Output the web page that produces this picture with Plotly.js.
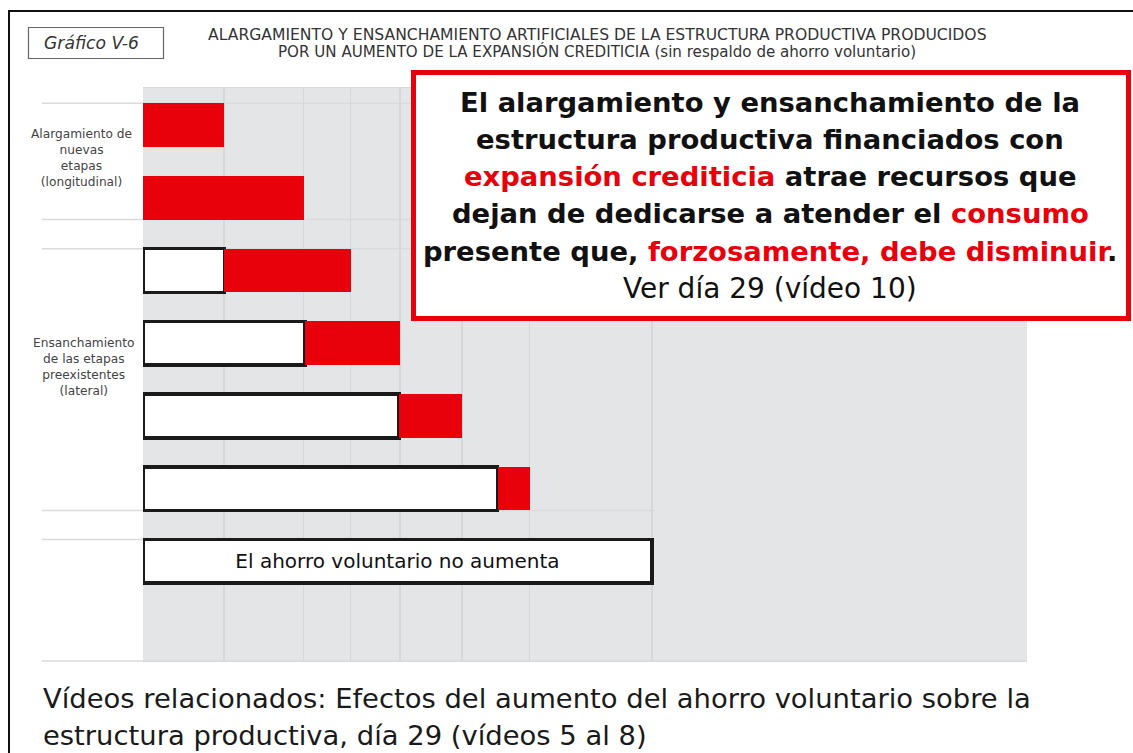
<!DOCTYPE html>
<html>
<head>
<meta charset="utf-8">
<script src="https://cdn.plot.ly/plotly-3.0.1.min.js"></script>
<style>
  html, body { margin: 0; padding: 0; background: #ffffff; }
  #chart { width: 1133px; height: 753px; }
</style>
</head>
<body>
<div id="chart"></div>
<script>
// ---- Data (x in % of the voluntary-saving bar) ----
const stages = ['Nueva etapa A', 'Nueva etapa B', 'Etapa 5', 'Etapa 4', 'Etapa 3', 'Etapa 2', 'Etapa 1'];
const ahorroValues = [null, null, 16, 31.8, 50.3, 69.7, 100];
const creditoValues = [15.9, 31.6, 24.8, 18.7, 12.4, 6.3, null];
const barTexts = ['', '', '', '', '', '', 'El ahorro voluntario no aumenta'];
const groupLabels = [
  'Alargamiento de<br>nuevas<br>etapas<br>(longitudinal)',
  'Ensanchamiento<br>de las etapas<br>preexistentes<br>(lateral)'
];
const chartTitle = ['ALARGAMIENTO Y ENSANCHAMIENTO ARTIFICIALES DE LA ESTRUCTURA PRODUCTIVA PRODUCIDOS',
                    'POR UN AUMENTO DE LA EXPANSIÓN CREDITICIA (sin respaldo de ahorro voluntario)'];
const chartTag = 'Gráfico V-6';
const boxLines = [
  {t: 'El alargamiento y ensanchamiento de la', b: true},
  {t: 'estructura productiva financiados con', b: true},
  {t: '<span style="color:#e8000b">expansión crediticia</span> atrae recursos que', b: true},
  {t: 'dejan de dedicarse a atender el <span style="color:#e8000b">consumo</span>', b: true},
  {t: 'presente que, <span style="color:#e8000b">forzosamente, debe disminuir</span>.', b: true},
  {t: 'Ver día 29 (vídeo 10)', b: false}
];
const footLines = ['Vídeos relacionados: Efectos del aumento del ahorro voluntario sobre la',
                   'estructura productiva, día 29 (vídeos 5 al 8)'];

// ---- Geometry helpers (page pixels -> paper coordinates) ----
const W = 1133, H = 753;
const M = {l: 143, r: W - 1027, t: 88, b: H - 661};
const PW = W - M.l - M.r, PH = H - M.t - M.b;
const px = v => (v - M.l) / PW;
const py = v => (H - M.b - v) / PH;

const totals = ahorroValues.map((a, i) => (a || 0) + (creditoValues[i] || 0));
const gridVals = totals.slice();

const FONT = 'DejaVu Sans, Liberation Sans, sans-serif';
const RED = '#e8000b';

const traces = [
  {
    type: 'bar', orientation: 'h', y: stages, x: ahorroValues,
    width: 0.6, name: 'Ahorro voluntario',
    marker: {color: '#ffffff', line: {color: '#1a1a1a', width: 3.5}},
    text: barTexts, textposition: 'inside', insidetextanchor: 'middle',
    constraintext: 'none',
    textfont: {family: FONT, size: 20, color: '#111111'},
    hoverinfo: 'x+y'
  },
  {
    type: 'bar', orientation: 'h', y: stages, x: creditoValues,
    width: 0.6, name: 'Expansión crediticia',
    marker: {color: RED, line: {width: 0}},
    hoverinfo: 'x+y'
  }
];

const shapes = [];
// outer frame (open at right/bottom)
shapes.push({type: 'path', xref: 'paper', yref: 'paper',
  path: `M ${px(9)} ${py(760)} L ${px(9)} ${py(11)} L ${px(1140)} ${py(11)}`,
  line: {color: '#111', width: 2}});
// tag box
shapes.push({type: 'rect', xref: 'paper', yref: 'paper',
  x0: px(28.5), x1: px(163.5), y0: py(27.5), y1: py(58.5),
  line: {color: '#666', width: 1.2}, fillcolor: 'rgba(0,0,0,0)'});
// group separator lines (data y positions around the bars)
const sepYs = [-0.3, 1.3, 1.7, 5.3, 5.7];
sepYs.forEach(yv => {
  shapes.push({type: 'line', xref: 'paper', yref: 'y', x0: px(42), x1: px(655),
    y0: yv, y1: yv, line: {color: '#dadbdd', width: 1.5}, layer: 'below'});
});
shapes.push({type: 'line', xref: 'paper', yref: 'paper', x0: px(42), x1: 1,
  y0: 0, y1: 0, line: {color: '#dadbdd', width: 1.5}, layer: 'below'});
// red callout box
shapes.push({type: 'rect', xref: 'paper', yref: 'paper',
  x0: px(413.5), x1: px(1128.5), y0: py(72.5), y1: py(318.5),
  line: {color: RED, width: 5}, fillcolor: '#ffffff', layer: 'above'});

const annotations = [];
annotations.push({xref: 'paper', yref: 'paper', x: px(91), y: py(43), text: '<i>' + chartTag + '</i>',
  showarrow: false, font: {family: FONT, size: 17.2, color: '#333'}, xanchor: 'center', yanchor: 'middle'});
const titleSizes = [15.6, 15.1];
chartTitle.forEach((t, i) => {
  annotations.push({xref: 'paper', yref: 'paper', x: px(597), y: py(35 + i * 17), text: t,
    showarrow: false, font: {family: FONT, size: titleSizes[i], color: '#333'}, xanchor: 'center', yanchor: 'middle'});
});
annotations.push({xref: 'paper', yref: 'paper', x: px(81), y: py(158), text: groupLabels[0],
  showarrow: false, font: {family: FONT, size: 12.2, color: '#444'}, xanchor: 'center', yanchor: 'middle', align: 'center'});
annotations.push({xref: 'paper', yref: 'paper', x: px(84), y: py(367), text: groupLabels[1],
  showarrow: false, font: {family: FONT, size: 12.2, color: '#444'}, xanchor: 'center', yanchor: 'middle', align: 'center'});
boxLines.forEach((l, i) => {
  annotations.push({xref: 'paper', yref: 'paper', x: px(770), y: py(102 + i * 37.3),
    text: l.b ? '<b>' + l.t + '</b>' : l.t,
    showarrow: false, font: {family: FONT, size: l.b ? 27.4 : 28, color: '#111'}, xanchor: 'center', yanchor: 'middle'});
});
footLines.forEach((t, i) => {
  annotations.push({xref: 'paper', yref: 'paper', x: px(41), y: py(698 + i * 37), text: t,
    showarrow: false, font: {family: FONT, size: 27.4, color: '#1a1a1a'}, xanchor: 'left', yanchor: 'middle'});
});

const layout = {
  width: W, height: H,
  margin: M,
  paper_bgcolor: '#ffffff', plot_bgcolor: '#e4e5e7',
  barmode: 'stack', bargap: 0.4,
  showlegend: false,
  xaxis: {range: [0, 173.7], tickvals: gridVals, showticklabels: false, ticks: '',
    showgrid: true, gridcolor: '#d6d7d9', gridwidth: 1.2, zeroline: false,
    showline: true, linecolor: '#d8d9db', mirror: true, fixedrange: true},
  yaxis: {type: 'category', range: [7.37, -0.51], showticklabels: false, ticks: '',
    showgrid: false, zeroline: false, showline: false, fixedrange: true},
  shapes: shapes,
  annotations: annotations,
  font: {family: FONT}
};

Plotly.newPlot('chart', traces, layout, {displayModeBar: false, staticPlot: true});
</script>
</body>
</html>
